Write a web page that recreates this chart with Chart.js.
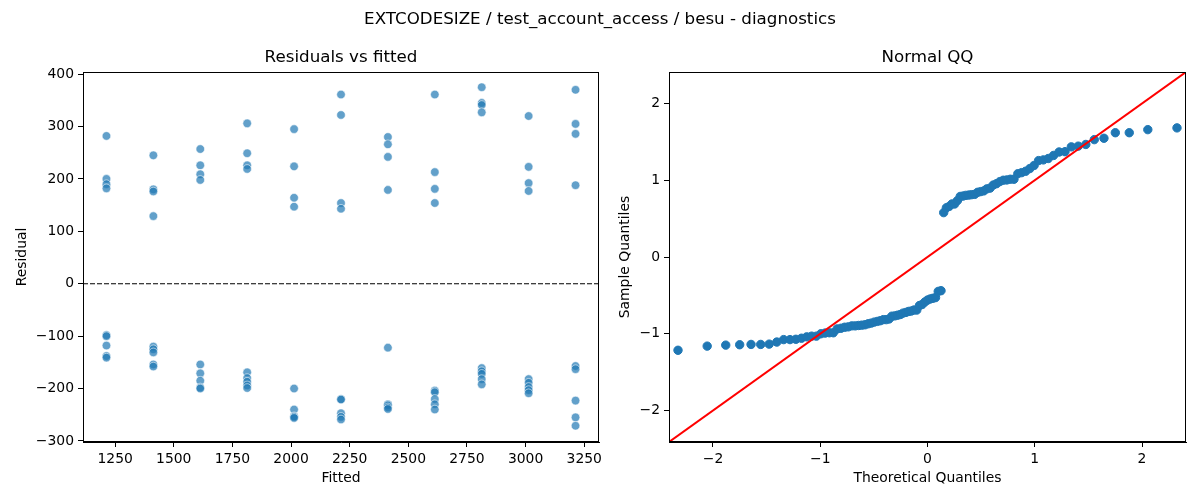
<!DOCTYPE html>
<html>
<head>
<meta charset="utf-8">
<script src="https://cdn.jsdelivr.net/npm/chart.js@4.4.1/dist/chart.umd.min.js"></script>
<style>
  body { margin: 0; background: #fff; }
  #wrap { position: relative; width: 1200px; height: 500px; font-family: "DejaVu Sans", sans-serif; }
  #suptitle { position: absolute; left: 0; top: 8px; width: 1200px; text-align: center; font-size: 16.7px; line-height: 20px; color: #000; }
  canvas { position: absolute; top: 0; }
</style>
</head>
<body>
<div id="wrap">
  <canvas id="resid" width="610" height="500" style="left:0"></canvas>
  <canvas id="qq" width="590" height="500" style="left:610px"></canvas>
  <div id="suptitle">EXTCODESIZE / test_account_access / besu - diagnostics</div>
</div>
<script>
// residuals vs fitted: one column of 9 residuals per fitted level
const fittedLevels = [1213, 1413, 1613, 1813, 2013, 2213, 2413, 2613, 2813, 3013, 3213];
const residuals = [
  [282, 200, 190, 182, -98, -100, -118, -138, -141],
  [245, 180, 176, 129, -120, -125, -131, -154, -158],
  [257, 226, 209, 198, -154, -171, -185, -198, -200],
  [306, 249, 226, 219, -169, -180, -187, -194, -199],
  [295, 224, 164, 147, -200, -240, -253, -254, -256],
  [361, 322, 154, 143, -220, -221, -247, -254, -259],
  [280, 266, 242, 179, -122, -230, -232, -236, -239],
  [361, 213, 181, 154, -204, -207, -220, -230, -240],
  [375, 345, 341, 327, -161, -167, -172, -182, -192],
  [320, 223, 192, 177, -182, -189, -197, -203, -209],
  [370, 305, 286, 188, -157, -163, -223, -255, -271]
];
const fittedTicks = [1250, 1500, 1750, 2000, 2250, 2500, 2750, 3000, 3250];
const residualTicks = [-300, -200, -100, 0, 100, 200, 300, 400];
const fittedRange = [1113, 3313];
const residualRange = [-302, 404];

// normal QQ of the standardized residuals
const qqTheoretical = [
  -2.326, -2.054, -1.881, -1.751, -1.645, -1.555, -1.476, -1.405, -1.341, -1.282,
  -1.227, -1.175, -1.126, -1.080, -1.036, -0.994, -0.954, -0.915, -0.878, -0.842,
  -0.806, -0.772, -0.739, -0.706, -0.674, -0.643, -0.613, -0.583, -0.553, -0.524,
  -0.496, -0.468, -0.440, -0.412, -0.385, -0.358, -0.332, -0.305, -0.279, -0.253,
  -0.228, -0.202, -0.176, -0.151, -0.126, -0.100, -0.075, -0.050, -0.025, 0,
  0.025, 0.050, 0.075, 0.100, 0.126, 0.151, 0.176, 0.202, 0.228, 0.253,
  0.279, 0.305, 0.332, 0.358, 0.385, 0.412, 0.440, 0.468, 0.496, 0.524,
  0.553, 0.583, 0.613, 0.643, 0.674, 0.706, 0.739, 0.772, 0.806, 0.842,
  0.878, 0.915, 0.954, 0.994, 1.036, 1.080, 1.126, 1.175, 1.227, 1.282,
  1.341, 1.405, 1.476, 1.555, 1.645, 1.751, 1.881, 2.054, 2.326
];
const qqSample = [
  -1.215, -1.161, -1.148, -1.143, -1.139, -1.139, -1.135, -1.108, -1.076, -1.076,
  -1.072, -1.058, -1.040, -1.031, -1.031, -1.000, -0.991, -0.987, -0.987, -0.937,
  -0.928, -0.915, -0.910, -0.897, -0.897, -0.892, -0.888, -0.883, -0.870, -0.861,
  -0.848, -0.839, -0.830, -0.816, -0.816, -0.807, -0.771, -0.767, -0.758, -0.749,
  -0.731, -0.722, -0.709, -0.704, -0.691, -0.691, -0.632, -0.619, -0.587, -0.561,
  -0.547, -0.538, -0.529, -0.448, -0.439,
  0.578, 0.641, 0.659, 0.691, 0.691, 0.735, 0.789, 0.794, 0.803, 0.807,
  0.812, 0.816, 0.843, 0.852, 0.861, 0.888, 0.897, 0.937, 0.955, 0.982,
  1.000, 1.004, 1.013, 1.013, 1.085, 1.099, 1.117, 1.152, 1.193, 1.256,
  1.265, 1.283, 1.323, 1.368, 1.372, 1.435, 1.444, 1.466, 1.529, 1.547,
  1.619, 1.619, 1.659, 1.682
];
const qqTicks = [-2, -1, 0, 1, 2];
const qqRange = [-2.41, 2.41];

const FONT = { family: '"DejaVu Sans", sans-serif', size: 13.9 };
const minus = v => (v < 0 ? '\u2212' : '') + Math.abs(v);

// frame + panel title, matplotlib style
const panelPlugin = {
  id: 'panel',
  afterDatasetsDraw(chart, args, opts) {
    const { ctx, chartArea: a } = chart;
    ctx.save();
    ctx.strokeStyle = '#000';
    ctx.lineWidth = 1;
    ctx.strokeRect(a.left + 0.5, a.top + 0.5, a.right - a.left - 1, a.bottom - a.top - 1);
    ctx.fillStyle = '#000';
    ctx.font = '16.7px "DejaVu Sans", sans-serif';
    ctx.textAlign = 'center';
    ctx.textBaseline = 'alphabetic';
    ctx.fillText(opts.text, (a.left + a.right) / 2, 62);
    ctx.restore();
  }
};

function axis(range, ticks, title, size, titlePad, horizontal) {
  return {
    type: 'linear',
    min: range[0],
    max: range[1],
    afterBuildTicks: s => { s.ticks = ticks.map(v => ({ value: v })); },
    afterFit: s => { if (horizontal) s.height = size; else s.width = size; },
    ticks: { font: FONT, color: '#000', callback: minus, autoSkip: false, maxRotation: 0, padding: 4 },
    grid: { drawOnChartArea: false, color: '#000', tickColor: '#000', tickLength: 5 },
    border: { color: '#000' },
    title: { display: true, text: title, font: FONT, color: '#000', padding: titlePad }
  };
}

const residPoints = [];
fittedLevels.forEach((f, i) => residuals[i].forEach(r => residPoints.push({ x: f, y: r })));

new Chart(document.getElementById('resid'), {
  type: 'scatter',
  data: {
    datasets: [
      {
        data: [{ x: fittedRange[0], y: 0 }, { x: fittedRange[1], y: 0 }],
        showLine: true, borderColor: '#000', borderWidth: 1.2, borderDash: [5, 2],
        pointRadius: 0
      },
      {
        data: residPoints,
        backgroundColor: 'rgba(31,119,180,0.7)',
        borderColor: 'rgba(255,255,255,0.7)',
        borderWidth: 0.8,
        pointRadius: 4.3
      }
    ]
  },
  options: {
    responsive: false, animation: false, devicePixelRatio: 1,
    layout: { padding: { top: 72, right: 11, bottom: 0, left: 0 } },
    plugins: { legend: { display: false }, tooltip: { enabled: false }, panel: { text: 'Residuals vs fitted' } },
    scales: {
      x: axis(fittedRange, fittedTicks, 'Fitted', 58, { top: 0, bottom: 13 }, true),
      y: axis(residualRange, residualTicks, 'Residual', 83, { top: 14, bottom: 0 }, false)
    }
  },
  plugins: [panelPlugin]
});

new Chart(document.getElementById('qq'), {
  type: 'scatter',
  data: {
    datasets: [
      {
        data: [{ x: qqRange[0], y: qqRange[0] }, { x: qqRange[1], y: qqRange[1] }],
        showLine: true, borderColor: '#ff0000', borderWidth: 2, pointRadius: 0
      },
      {
        data: qqTheoretical.map((t, i) => ({ x: t, y: qqSample[i] })),
        backgroundColor: '#1f77b4', borderColor: '#1f77b4', borderWidth: 1, pointRadius: 4.2
      }
    ]
  },
  options: {
    responsive: false, animation: false, devicePixelRatio: 1,
    layout: { padding: { top: 72, right: 14, bottom: 0, left: 0 } },
    plugins: { legend: { display: false }, tooltip: { enabled: false }, panel: { text: 'Normal QQ' } },
    scales: {
      x: axis(qqRange, qqTicks, 'Theoretical Quantiles', 58, { top: 0, bottom: 13 }, true),
      y: axis(qqRange, qqTicks, 'Sample Quantiles', 59, { top: 7, bottom: 0 }, false)
    }
  },
  plugins: [panelPlugin]
});
</script>
</body>
</html>
